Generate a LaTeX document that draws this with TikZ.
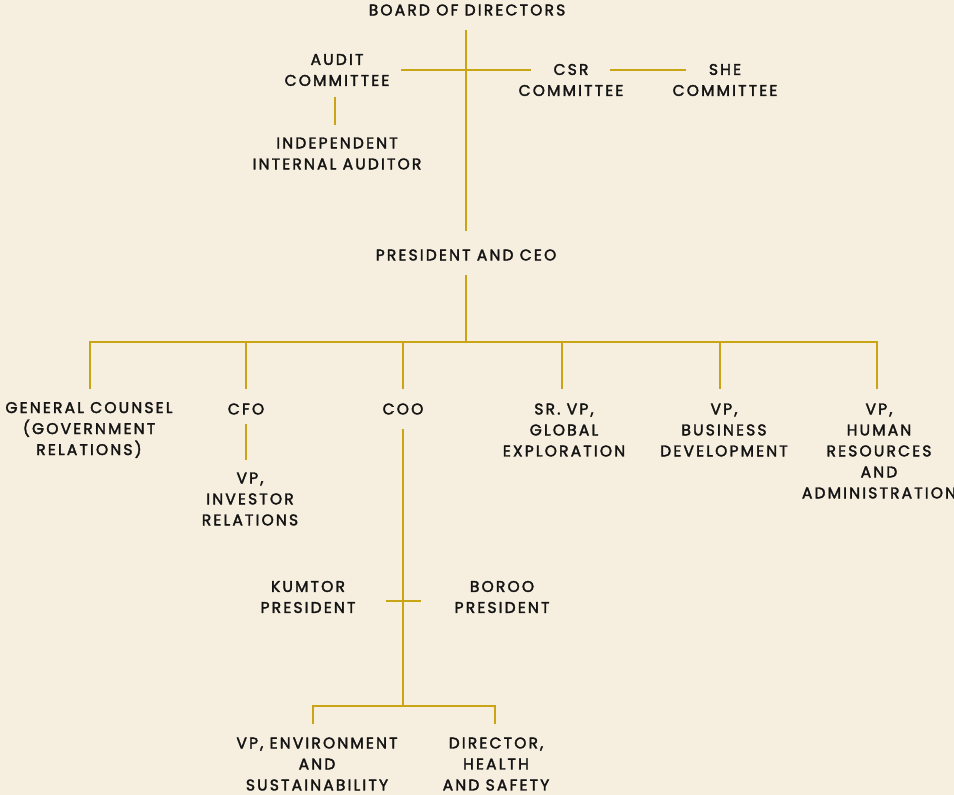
\documentclass[tikz,border=0pt]{standalone}
\usepackage{fontspec}
\setmainfont{Poppins}[LetterSpace=14,FakeBold=2.2]
\definecolor{bg}{HTML}{F6EFDF}
\definecolor{gold}{HTML}{C9A415}
\definecolor{ink}{HTML}{141414}
\begin{document}
\begin{tikzpicture}[x=1pt,y=-1pt,
  lbl/.style={align=center,inner sep=0pt,text=ink,font=\fontsize{15.5}{21}\selectfont},
  link/.style={draw=gold,line width=2.1pt}]
\fill[bg] (0,0) rectangle (954,795);
\useasboundingbox (0,0) rectangle (954,795);
% nodes
\node[lbl] (board) at (467,10) {BOARD OF DIRECTORS};
\node[lbl] (audit) at (337,70) {AUDIT\\COMMITTEE};
\node[lbl] (csr) at (571,80) {CSR\\COMMITTEE};
\node[lbl] (she) at (725,80) {SHE\\COMMITTEE};
\node[lbl] (indep) at (337,153.5) {INDEPENDENT\\INTERNAL AUDITOR};
\node[lbl] (pres) at (466,255) {PRESIDENT AND CEO};
\node[lbl] (gc) at (89,430) {GENERAL COUNSEL\\(GOVERNMENT\\RELATIONS)};
\node[lbl] (cfo) at (246,409) {CFO};
\node[lbl] (vpir) at (250,499) {VP,\\INVESTOR\\RELATIONS};
\node[lbl] (coo) at (403,409) {COO};
\node[lbl] (srvp) at (564,430) {SR. VP,\\GLOBAL\\EXPLORATION};
\node[lbl] (vpbd) at (724,430) {VP,\\BUSINESS\\DEVELOPMENT};
\node[lbl] (vphr) at (879,451) {VP,\\HUMAN\\RESOURCES\\AND\\ADMINISTRATION};
\node[lbl] (kumtor) at (308,597) {KUMTOR\\PRESIDENT};
\node[lbl] (boroo) at (502,597) {BOROO\\PRESIDENT};
\node[lbl] (vpenv) at (317,764) {VP, ENVIRONMENT\\AND\\SUSTAINABILITY};
\node[lbl] (dir) at (496,764) {DIRECTOR,\\HEALTH\\AND SAFETY};
% junction coordinates
\coordinate (boardB) at (466,30);
\coordinate (presT) at (466,231);
\coordinate (auditR) at (401,70);
\coordinate (csrL) at (531,70);
\coordinate (csrR) at (610,70);
\coordinate (sheL) at (686,70);
\coordinate (auditB) at (335,97);
\coordinate (indepT) at (335,125);
\coordinate (presB) at (466,275);
\coordinate (busC) at (466,342);
\coordinate (gcT) at (90,389);
\coordinate (cfoT) at (246,389);
\coordinate (cooT) at (403,389);
\coordinate (srvpT) at (562,389);
\coordinate (vpbdT) at (720,389);
\coordinate (vphrT) at (877,389);
\coordinate (cfoB) at (246,424);
\coordinate (vpirT) at (246,460);
\coordinate (cooB) at (403,429);
\coordinate (busD) at (403,706);
\coordinate (kumtorR) at (386,601);
\coordinate (borooL) at (421,601);
\coordinate (vpenvT) at (313,724);
\coordinate (dirT) at (495,724);
% connectors
\draw[link] (boardB) -- (presT);
\draw[link] (auditR) -- (csrL);
\draw[link] (csrR) -- (sheL);
\draw[link] (auditB) -- (indepT);
\draw[link] (presB) -- (busC);
\draw[link,line join=miter] (gcT) |- (busC) -| (vphrT);
\foreach \t in {cfoT,cooT,srvpT,vpbdT} \draw[link] (\t) -- (\t |- busC);
\draw[link] (cfoB) -- (vpirT);
\draw[link] (cooB) -- (busD);
\draw[link] (kumtorR) -- (borooL);
\draw[link,line join=miter] (vpenvT) |- (busD) -| (dirT);
\end{tikzpicture}
\end{document}
